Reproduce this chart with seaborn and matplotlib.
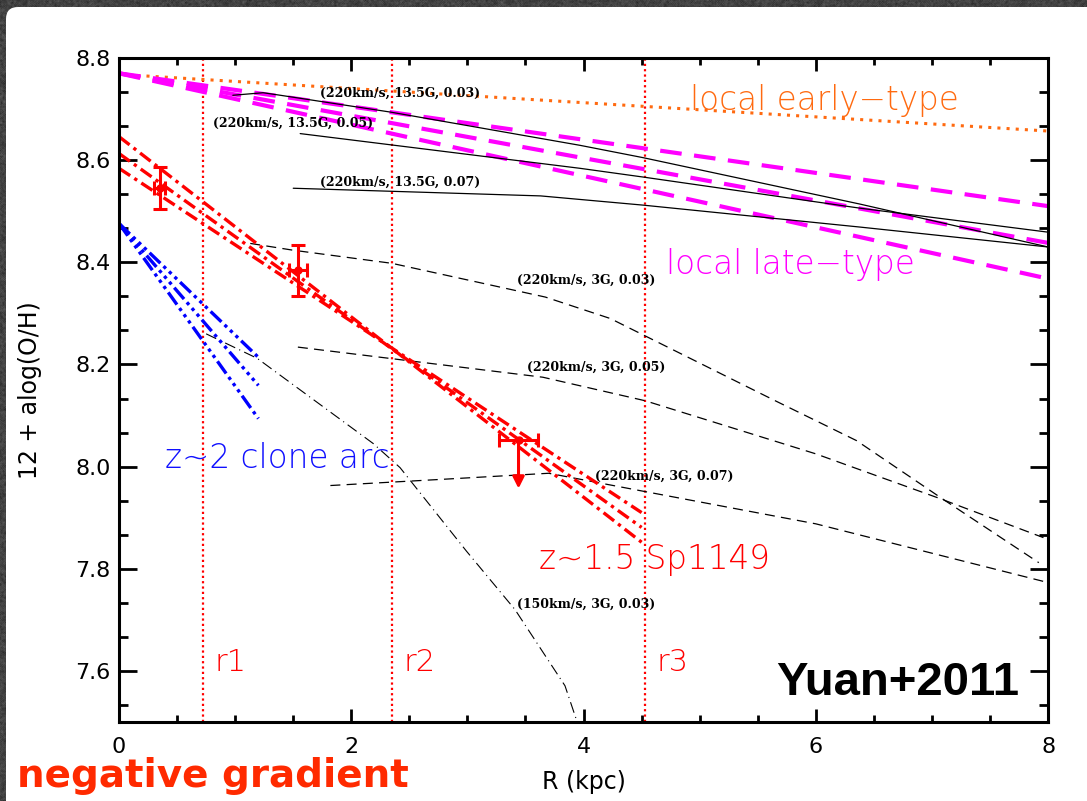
import matplotlib
matplotlib.use("Agg")
import numpy as np
import pandas as pd
import seaborn as sns
import matplotlib.pyplot as plt
from matplotlib.patches import FancyBboxPatch
from matplotlib.ticker import MultipleLocator, AutoMinorLocator, FormatStrFormatter

# ---------------- data ----------------
# local reference gradients (R in kpc, 12+log(O/H))
R_local = [0.0, 8.0]
oh_early = [8.768, 8.657]
oh_late_hi = [8.770, 8.510]
oh_late_mid = [8.770, 8.438]
oh_late_lo = [8.770, 8.368]

# model curves, 220 km/s, 13.5G
R_m13_03 = [0.98, 1.24, 1.39, 2.34, 3.97, 4.51, 6.38, 8.0]
oh_m13_03 = [8.727, 8.732, 8.727, 8.694, 8.629, 8.605, 8.514, 8.430]
R_m13_05 = [1.56, 3.97, 4.51, 6.38, 8.0]
oh_m13_05 = [8.652, 8.584, 8.567, 8.506, 8.459]
R_m13_07 = [1.50, 3.63, 4.51, 6.38, 8.0]
oh_m13_07 = [8.545, 8.530, 8.512, 8.469, 8.430]

# model curves, 220 km/s, 3G
R_m3_03 = [1.13, 1.49, 2.35, 3.67, 4.23, 5.65, 6.35, 7.09, 7.92]
oh_m3_03 = [8.437, 8.424, 8.398, 8.332, 8.290, 8.129, 8.051, 7.937, 7.812]
R_m3_05 = [1.54, 3.65, 4.53, 6.00, 7.05, 7.96]
oh_m3_05 = [8.234, 8.175, 8.129, 8.025, 7.939, 7.861]
R_m3_07 = [1.82, 2.85, 3.70, 4.51, 6.00, 8.00]
oh_m3_07 = [7.963, 7.976, 7.987, 7.952, 7.888, 7.773]

# model curve, 150 km/s, 3G
R_m150 = [0.75, 1.19, 2.19, 2.42, 2.99, 3.41, 3.84, 3.96]
oh_m150 = [8.260, 8.212, 8.045, 7.998, 7.835, 7.720, 7.571, 7.490]

# z~1.5 Sp1149 gradient fits
R_sp = [0.0, 4.5]
oh_sp_a = [8.646, 7.852]
oh_sp_b = [8.613, 7.881]
oh_sp_c = [8.584, 7.910]

# z~2 clone arc gradient fits
R_clone = [0.0, 1.2]
oh_clone_a = [8.476, 8.214]
oh_clone_b = [8.476, 8.159]
oh_clone_c = [8.476, 8.094]

# Sp1149 measurements
pt_R = [0.35, 1.54, 3.44]
pt_Rerr = [0.05, 0.08, 0.17]
pt_oh = [8.545, 8.384, 8.052]
pt_oherr = [0.041, 0.050, np.nan]
pt_upper_limit = [np.nan, np.nan, 7.957]

# annuli radii
r_kpc = [0.72, 2.35, 4.53]
r_names = ["r1", "r2", "r3"]

# ---------------- style ----------------
sns.set_style("ticks")
plt.rcParams["font.family"] = ["DejaVu Sans"]
plt.rcParams["axes.linewidth"] = 2.2
for key in ("text.color", "axes.labelcolor", "xtick.color", "ytick.color",
            "axes.edgecolor"):
    plt.rcParams[key] = "black"

RED = "#ff0000"
MAGENTA = "#ff00ff"
ORANGE = "#ff6a10"
BLUE = "#1010ff"

fig = plt.figure(figsize=(10.87, 8.01), dpi=100, facecolor="#3c3c3c")

# mottled dark backdrop behind the white slide panel
rng = np.random.default_rng(7)
grain = rng.normal(0.0, 1.0, (801, 1087))
grain = (grain + np.roll(grain, 1, 0) + np.roll(grain, 1, 1)
         + np.roll(grain, -1, 0) + np.roll(grain, -1, 1)) / 5.0
backdrop = np.clip(0.26 + 0.06 * grain, 0, 1)
fig.figimage(backdrop, xo=0, yo=0, cmap="gray", vmin=0, vmax=1, zorder=-20)

panel = FancyBboxPatch((0.06, -0.5), 11.5, 8.44,
                       boxstyle="round,pad=0,rounding_size=0.12",
                       transform=fig.dpi_scale_trans,
                       facecolor="white", edgecolor="none", zorder=-10)
fig.patches.append(panel)

ax = fig.add_axes([0.1095, 0.0986, 0.8547, 0.8290])
ax.set_facecolor("white")
ax.set_zorder(1)


def curve(R, oh, **kw):
    df = pd.DataFrame({"R": R, "oh": oh})
    sns.lineplot(data=df, x="R", y="oh", ax=ax, legend=False,
                 sort=False, estimator=None, **kw)


# local galaxies
curve(R_local, oh_early, color=ORANGE, linewidth=2.2, linestyle=(0, (1, 2)))
for oh in (oh_late_hi, oh_late_mid, oh_late_lo):
    curve(R_local, oh, color=MAGENTA, linewidth=3.0, linestyle=(0, (5.2, 3)))

# models
for R, oh in ((R_m13_03, oh_m13_03), (R_m13_05, oh_m13_05), (R_m13_07, oh_m13_07)):
    curve(R, oh, color="black", linewidth=0.9)
for R, oh in ((R_m3_03, oh_m3_03), (R_m3_05, oh_m3_05), (R_m3_07, oh_m3_07)):
    curve(R, oh, color="black", linewidth=0.9, linestyle=(0, (8, 5)))
curve(R_m150, oh_m150, color="black", linewidth=0.8, linestyle=(0, (10, 4, 1, 4)))

# annuli
for r, name in zip(r_kpc, r_names):
    ax.axvline(r, color=RED, linewidth=1.6, linestyle=(0, (1, 1.4)), zorder=1)
    ax.text(r + 0.1, 7.6, name, color=RED, fontsize=22, fontweight=200,
            family=["DejaVu Sans"], va="baseline", ha="left")

# high-z gradients
for oh in (oh_sp_a, oh_sp_b, oh_sp_c):
    curve(R_sp, oh, color=RED, linewidth=2.4, linestyle=(0, (4, 1.5, 1, 1.5)))
for oh in (oh_clone_a, oh_clone_b, oh_clone_c):
    curve(R_clone, oh, color="#0000ff", linewidth=2.4,
          linestyle=(0, (4.5, 1.3, 1, 1.3, 1, 1.3, 1, 1.3)))

# measurements
ax.errorbar(pt_R[:2], pt_oh[:2], xerr=pt_Rerr[:2], yerr=pt_oherr[:2],
            fmt="o", color=RED, markersize=5, elinewidth=2.2,
            capsize=5, capthick=2.2, zorder=5)
ax.errorbar(pt_R[2:], pt_oh[2:], xerr=pt_Rerr[2:], fmt="o", color=RED,
            markersize=5, elinewidth=2.2, capsize=5, capthick=2.2, zorder=5)
ax.annotate("", xy=(pt_R[2], pt_upper_limit[2]), xytext=(pt_R[2], pt_oh[2]),
            arrowprops=dict(arrowstyle="-|>", color=RED, lw=2.2,
                            mutation_scale=17, shrinkA=0, shrinkB=0),
            zorder=5)

# model labels
lab = dict(family=["DejaVu Serif"], fontweight="bold", fontsize=9,
           color="black", va="center", ha="left")
ax.text(1.73, 8.731, "(220km/s, 13.5G, 0.03)", **lab)
ax.text(0.81, 8.673, "(220km/s, 13.5G, 0.05)", **lab)
ax.text(1.73, 8.557, "(220km/s, 13.5G, 0.07)", **lab)
ax.text(3.43, 8.365, "(220km/s, 3G, 0.03)", **lab)
ax.text(3.51, 8.194, "(220km/s, 3G, 0.05)", **lab)
ax.text(4.10, 7.982, "(220km/s, 3G, 0.07)", **lab)
ax.text(3.43, 7.731, "(150km/s, 3G, 0.03)", **lab)

# sample labels
thin = dict(family=["DejaVu Sans"], fontweight=200, fontsize=23.5,
            va="baseline", ha="left")
ax.text(4.92, 8.698, "local early\u2212type", color=ORANGE, **thin)
ax.text(4.71, 8.378, "local late\u2212type", color=MAGENTA, **thin)
ax.text(0.40, 7.998, "z~2 clone arc", color=BLUE, **thin)
ax.text(3.62, 7.800, "z~1.5 Sp1149", color=RED, **thin)

ax.text(0.969, 0.0407, "Yuan+2011", transform=ax.transAxes, ha="right",
        va="baseline", fontsize=34, fontweight="bold", color="black",
        family=["Liberation Sans", "DejaVu Sans"])

# axes
ax.set_xlim(0, 8)
ax.set_ylim(7.5, 8.8)
ax.xaxis.set_major_locator(MultipleLocator(2))
ax.xaxis.set_minor_locator(AutoMinorLocator(4))
ax.yaxis.set_major_locator(MultipleLocator(0.2))
ax.yaxis.set_minor_locator(AutoMinorLocator(3))
ax.xaxis.set_major_formatter(FormatStrFormatter("%d"))
ax.yaxis.set_major_formatter(FormatStrFormatter("%.1f"))
ax.tick_params(which="both", direction="in", top=True, right=True,
               width=2, colors="black", labelcolor="black")
ax.tick_params(axis="y", which="major", length=13, pad=6, labelsize=16)
ax.tick_params(axis="y", which="minor", length=6.5)
ax.tick_params(axis="x", which="major", length=9.5, pad=11, labelsize=16)
ax.tick_params(axis="x", which="minor", length=5)
for s in ax.spines.values():
    s.set_visible(True)
    s.set_linewidth(2.2)
    s.set_color("black")

ax.set_xlabel("R (kpc)", fontsize=17, color="black")
ax.set_ylabel("12 + alog(O/H)", fontsize=17, color="black")
ax.xaxis.set_label_coords(0.5, -0.072)
ax.yaxis.set_label_coords(-0.083, 0.5)

fig.text(17 / 1087, 1 - 787 / 801, "negative gradient", color="#ff2a00",
         fontsize=28, fontweight="bold", ha="left", va="baseline", zorder=5)

fig.savefig("out.png", dpi=100, facecolor=fig.get_facecolor())
